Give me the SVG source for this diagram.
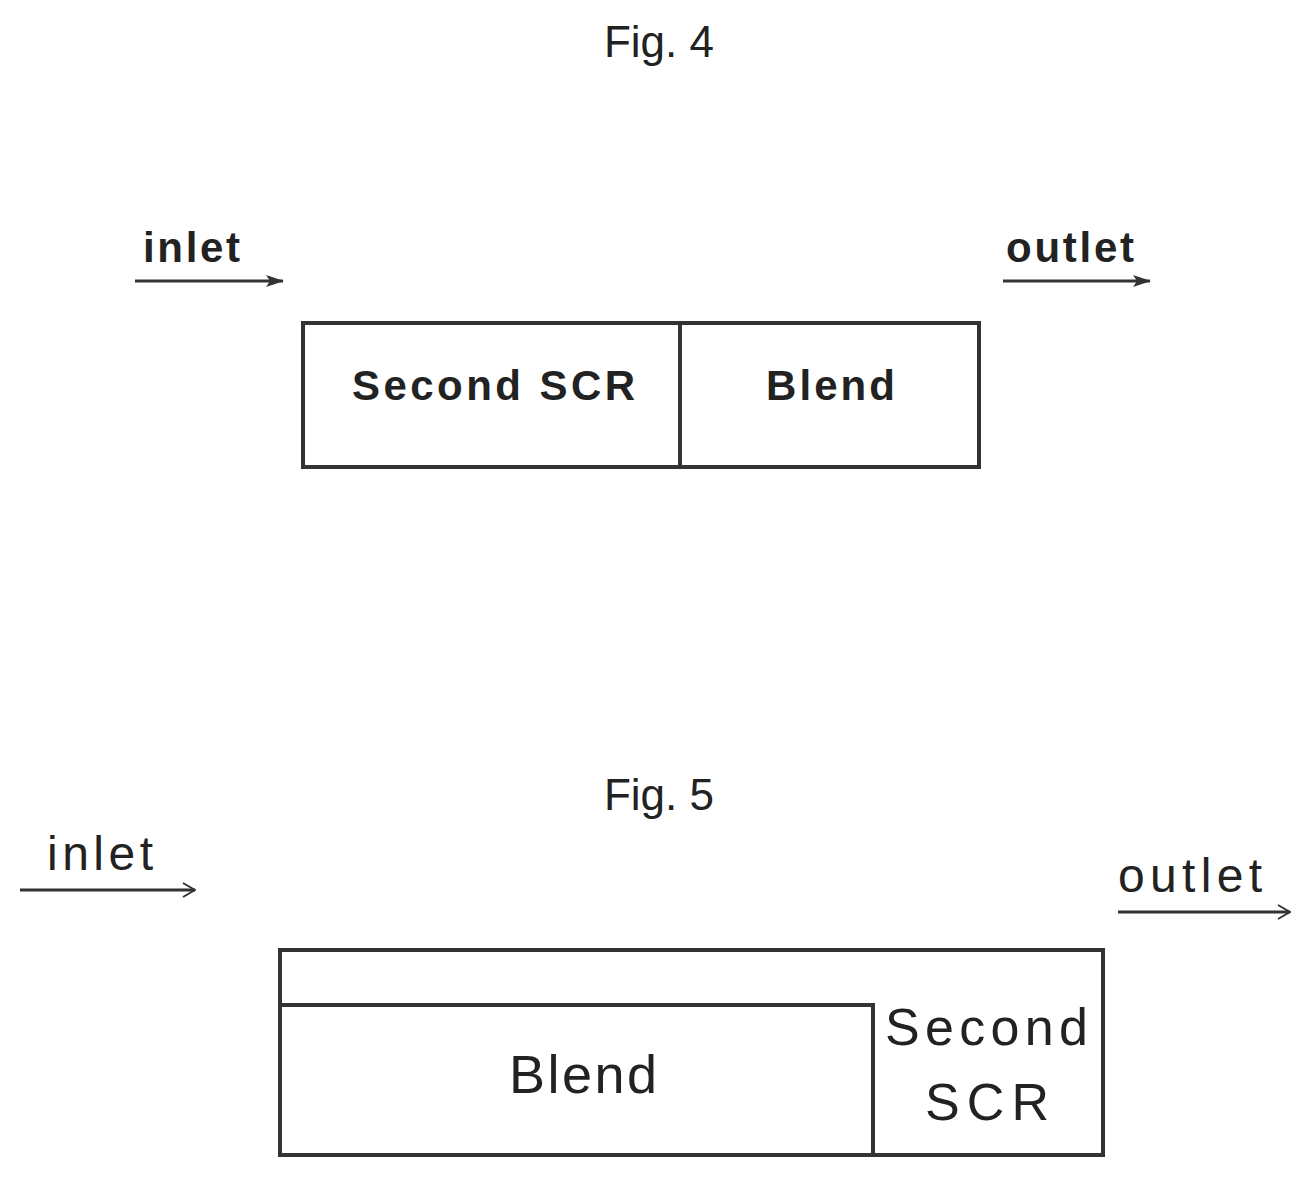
<svg xmlns="http://www.w3.org/2000/svg" width="1312" height="1178" viewBox="0 0 1312 1178">
<defs>
<marker id="ah" markerWidth="18" markerHeight="14" refX="17" refY="7" orient="auto" markerUnits="userSpaceOnUse" viewBox="0 0 18 14"><path d="M0,1 L18,7 L0,13 L4,7 Z" fill="#333"/></marker>
<marker id="oh" markerWidth="14" markerHeight="16" refX="13" refY="8" orient="auto" markerUnits="userSpaceOnUse" viewBox="0 0 14 16"><path d="M1,1 L13,8 L1,15" fill="none" stroke="#333" stroke-width="2"/></marker>
<style>
text{font-family:"Liberation Sans",Arial,sans-serif;fill:#222}
.b{font-weight:bold}
.box{fill:#fff;stroke:#333;stroke-width:4}
.ln{stroke:#333;stroke-width:3;fill:none}
</style>
</defs>
<rect width="1312" height="1178" fill="#fff"/>
<text x="659" y="57" font-size="44" text-anchor="middle">Fig. 4</text>
<text x="659" y="810" font-size="44" text-anchor="middle">Fig. 5</text>
<g id="fig4-labels">
<text x="143" y="262" font-size="42" class="b" textLength="97" lengthAdjust="spacing">inlet</text>
<text x="1006" y="262" font-size="42" class="b" textLength="128" lengthAdjust="spacing">outlet</text>
</g>
<g id="fig4-second-scr"><rect class="box" x="303" y="323" width="377" height="144"/><text x="352" y="400" font-size="42" class="b" textLength="283" lengthAdjust="spacing">Second SCR</text></g>
<g id="fig4-blend"><rect class="box" x="680" y="323" width="299" height="144"/><text x="766" y="400" font-size="42" class="b" textLength="129" lengthAdjust="spacing">Blend</text></g>
<g id="fig5-labels">
<text x="47" y="870" font-size="48" textLength="106" lengthAdjust="spacing">inlet</text>
<text x="1118" y="892" font-size="48" textLength="144" lengthAdjust="spacing">outlet</text>
</g>
<g id="fig5-second-scr"><rect class="box" x="280" y="950" width="823" height="205"/><text x="885" y="1045" font-size="52" textLength="203" lengthAdjust="spacing">Second</text><text x="925" y="1120" font-size="52" textLength="124" lengthAdjust="spacing">SCR</text></g>
<g id="fig5-blend"><path class="box" d="M282,1005 H873 V1153" /><text x="509" y="1093" font-size="54" textLength="148" lengthAdjust="spacing">Blend</text></g>
<g id="connectors">
<line class="ln" x1="135" y1="281" x2="283" y2="281" marker-end="url(#ah)"/>
<line class="ln" x1="1003" y1="281" x2="1150" y2="281" marker-end="url(#ah)"/>
<line class="ln" x1="20" y1="890" x2="195" y2="890" marker-end="url(#oh)"/>
<line class="ln" x1="1118" y1="912" x2="1290" y2="912" marker-end="url(#oh)"/>
</g>
</svg>
